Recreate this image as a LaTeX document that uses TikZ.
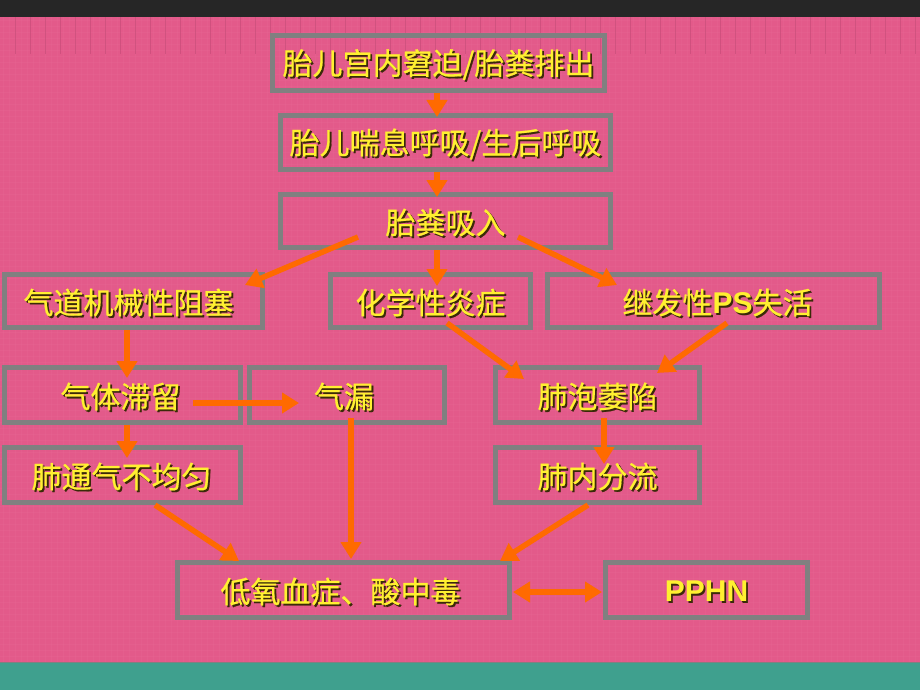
\documentclass[tikz,border=0pt]{standalone}
\usepackage{fontspec}
\newfontface\cjk{Noto Sans CJK SC}[FakeBold=0.5]
\newfontface\latb{Liberation Sans Bold}
\usetikzlibrary{arrows.meta}
\definecolor{bgpink}{HTML}{E35A8A}
\definecolor{gridc}{HTML}{EC76A0}
\definecolor{rulerc}{HTML}{C44A76}
\definecolor{topbar}{HTML}{262626}
\definecolor{teal}{HTML}{3FA08E}
\definecolor{boxgray}{HTML}{808080}
\definecolor{txtyellow}{HTML}{FFF030}
\definecolor{shadowc}{HTML}{3A2A08}
\definecolor{arrowc}{HTML}{FF6A00}
\tikzset{
  box/.style={draw=boxgray, line width=5pt, inner sep=0pt, outer sep=0pt},
  txt/.style={text=txtyellow, inner sep=0pt, font=\cjk\fontsize{30}{32}\selectfont},
  shadowtxt/.style={text=shadowc, inner sep=0pt, font=\cjk\fontsize{30}{32}\selectfont},
  arr/.style={draw=arrowc, line width=5.5pt, -{Triangle[width=20pt,length=17pt]}},
  dblarr/.style={draw=arrowc, line width=5.5pt, {Triangle[width=20pt,length=17pt]}-{Triangle[width=20pt,length=17pt]}},
  gridline/.style={draw=gridc, line width=0.5pt, opacity=0.15},
  rulerline/.style={draw=rulerc, line width=1pt, opacity=0.6}
}
\newcommand\flowbox[6]{%
  \node[box, minimum width={(#4)-(#2)-5}, minimum height={(#5)-(#3)-5}] (#1) at ({((#2)+(#4))/2},{((#3)+(#5))/2}) {};
  \node[shadowtxt] (#1s) at ([shift={(1.8,3.3)}]#1.center) {#6};
  \node[txt] (#1t) at ([shift={(0,1.5)}]#1.center) {#6};
}
\begin{document}
\begin{tikzpicture}[x=1pt,y=-1pt]
\useasboundingbox (0,0) rectangle (920,690);
\fill[bgpink] (0,0) rectangle (920,690);
% fine grid
\foreach \x in {3,9,...,920} \draw[gridline] (\x,17) -- (\x,662);
\foreach \y in {20,26,...,662} \draw[gridline] (0,\y) -- (920,\y);
% top ruler
\foreach \x in {15,30,...,915} \draw[rulerline] (\x,17) -- (\x,54);
\fill[topbar] (0,0) rectangle (920,17);
\fill[teal] (0,662) rectangle (920,690);
\draw[boxgray, line width=1pt] (0,662) -- (920,662);

\flowbox{b1}{270}{33}{607}{93}{胎儿宫内窘迫/胎粪排出}
\flowbox{b2}{278}{113}{613}{172}{胎儿喘息呼吸/生后呼吸}
\flowbox{b3}{278}{192}{613}{250}{胎粪吸入}
\flowbox{b4}{2}{272}{265}{330}{\hspace*{-10pt}气道机械性阻塞}
\flowbox{b5}{328}{272}{533}{330}{化学性炎症}
\flowbox{b6}{545}{272}{882}{330}{继发性{\latb PS}失活\hspace*{-8pt}}
\flowbox{b7}{2}{365}{243}{425}{\hspace*{-4pt}气体滞留}
\flowbox{b8}{247}{365}{447}{425}{\hspace*{-6pt}气漏}
\flowbox{b9}{493}{365}{702}{425}{肺泡萎陷}
\flowbox{b10}{2}{445}{243}{505}{\hspace*{-2pt}肺通气不均匀}
\flowbox{b11}{493}{445}{702}{505}{肺内分流}
\flowbox{b12}{175}{560}{512}{620}{\hspace*{-6pt}低氧血症、酸中毒}
\flowbox{b13}{603}{560}{810}{620}{{\latb PPHN}}

% arrow end points
\coordinate (p1) at (437,93);   \coordinate (q1) at (437,117);
\coordinate (p2) at (437,172);  \coordinate (q2) at (437,197);
\coordinate (p3) at (358,237);  \coordinate (q3) at (245,285);
\coordinate (p4) at (437,250);  \coordinate (q4) at (437,286);
\coordinate (p5) at (518,237);  \coordinate (q5) at (617,285);
\coordinate (p6) at (127,330);  \coordinate (q6) at (127,378);
\coordinate (p7) at (193,403);  \coordinate (q7) at (299,403);
\coordinate (p8) at (127,425);  \coordinate (q8) at (127,458);
\coordinate (p9) at (351,418);  \coordinate (q9) at (351,559);
\coordinate (p10) at (155,505); \coordinate (q10) at (239,561);
\coordinate (p11) at (447,323); \coordinate (q11) at (524,379);
\coordinate (p12) at (727,323); \coordinate (q12) at (657,373);
\coordinate (p13) at (604,418); \coordinate (q13) at (604,464);
\coordinate (p14) at (588,505); \coordinate (q14) at (500,561);
\coordinate (p15) at (513,592); \coordinate (q15) at (602,592);

\draw[arr] (p1) -- (q1);
\draw[arr] (p2) -- (q2);
\draw[arr] (p3) -- (q3);
\draw[arr] (p4) -- (q4);
\draw[arr] (p5) -- (q5);
\draw[arr] (p6) -- (q6);
\draw[arr] (p7) -- (q7);
\draw[arr] (p8) -- (q8);
\draw[arr] (p9) -- (q9);
\draw[arr] (p10) -- (q10);
\draw[arr] (p11) -- (q11);
\draw[arr] (p12) -- (q12);
\draw[arr] (p13) -- (q13);
\draw[arr] (p14) -- (q14);
\draw[dblarr] (p15) -- (q15);
\end{tikzpicture}
\end{document}
